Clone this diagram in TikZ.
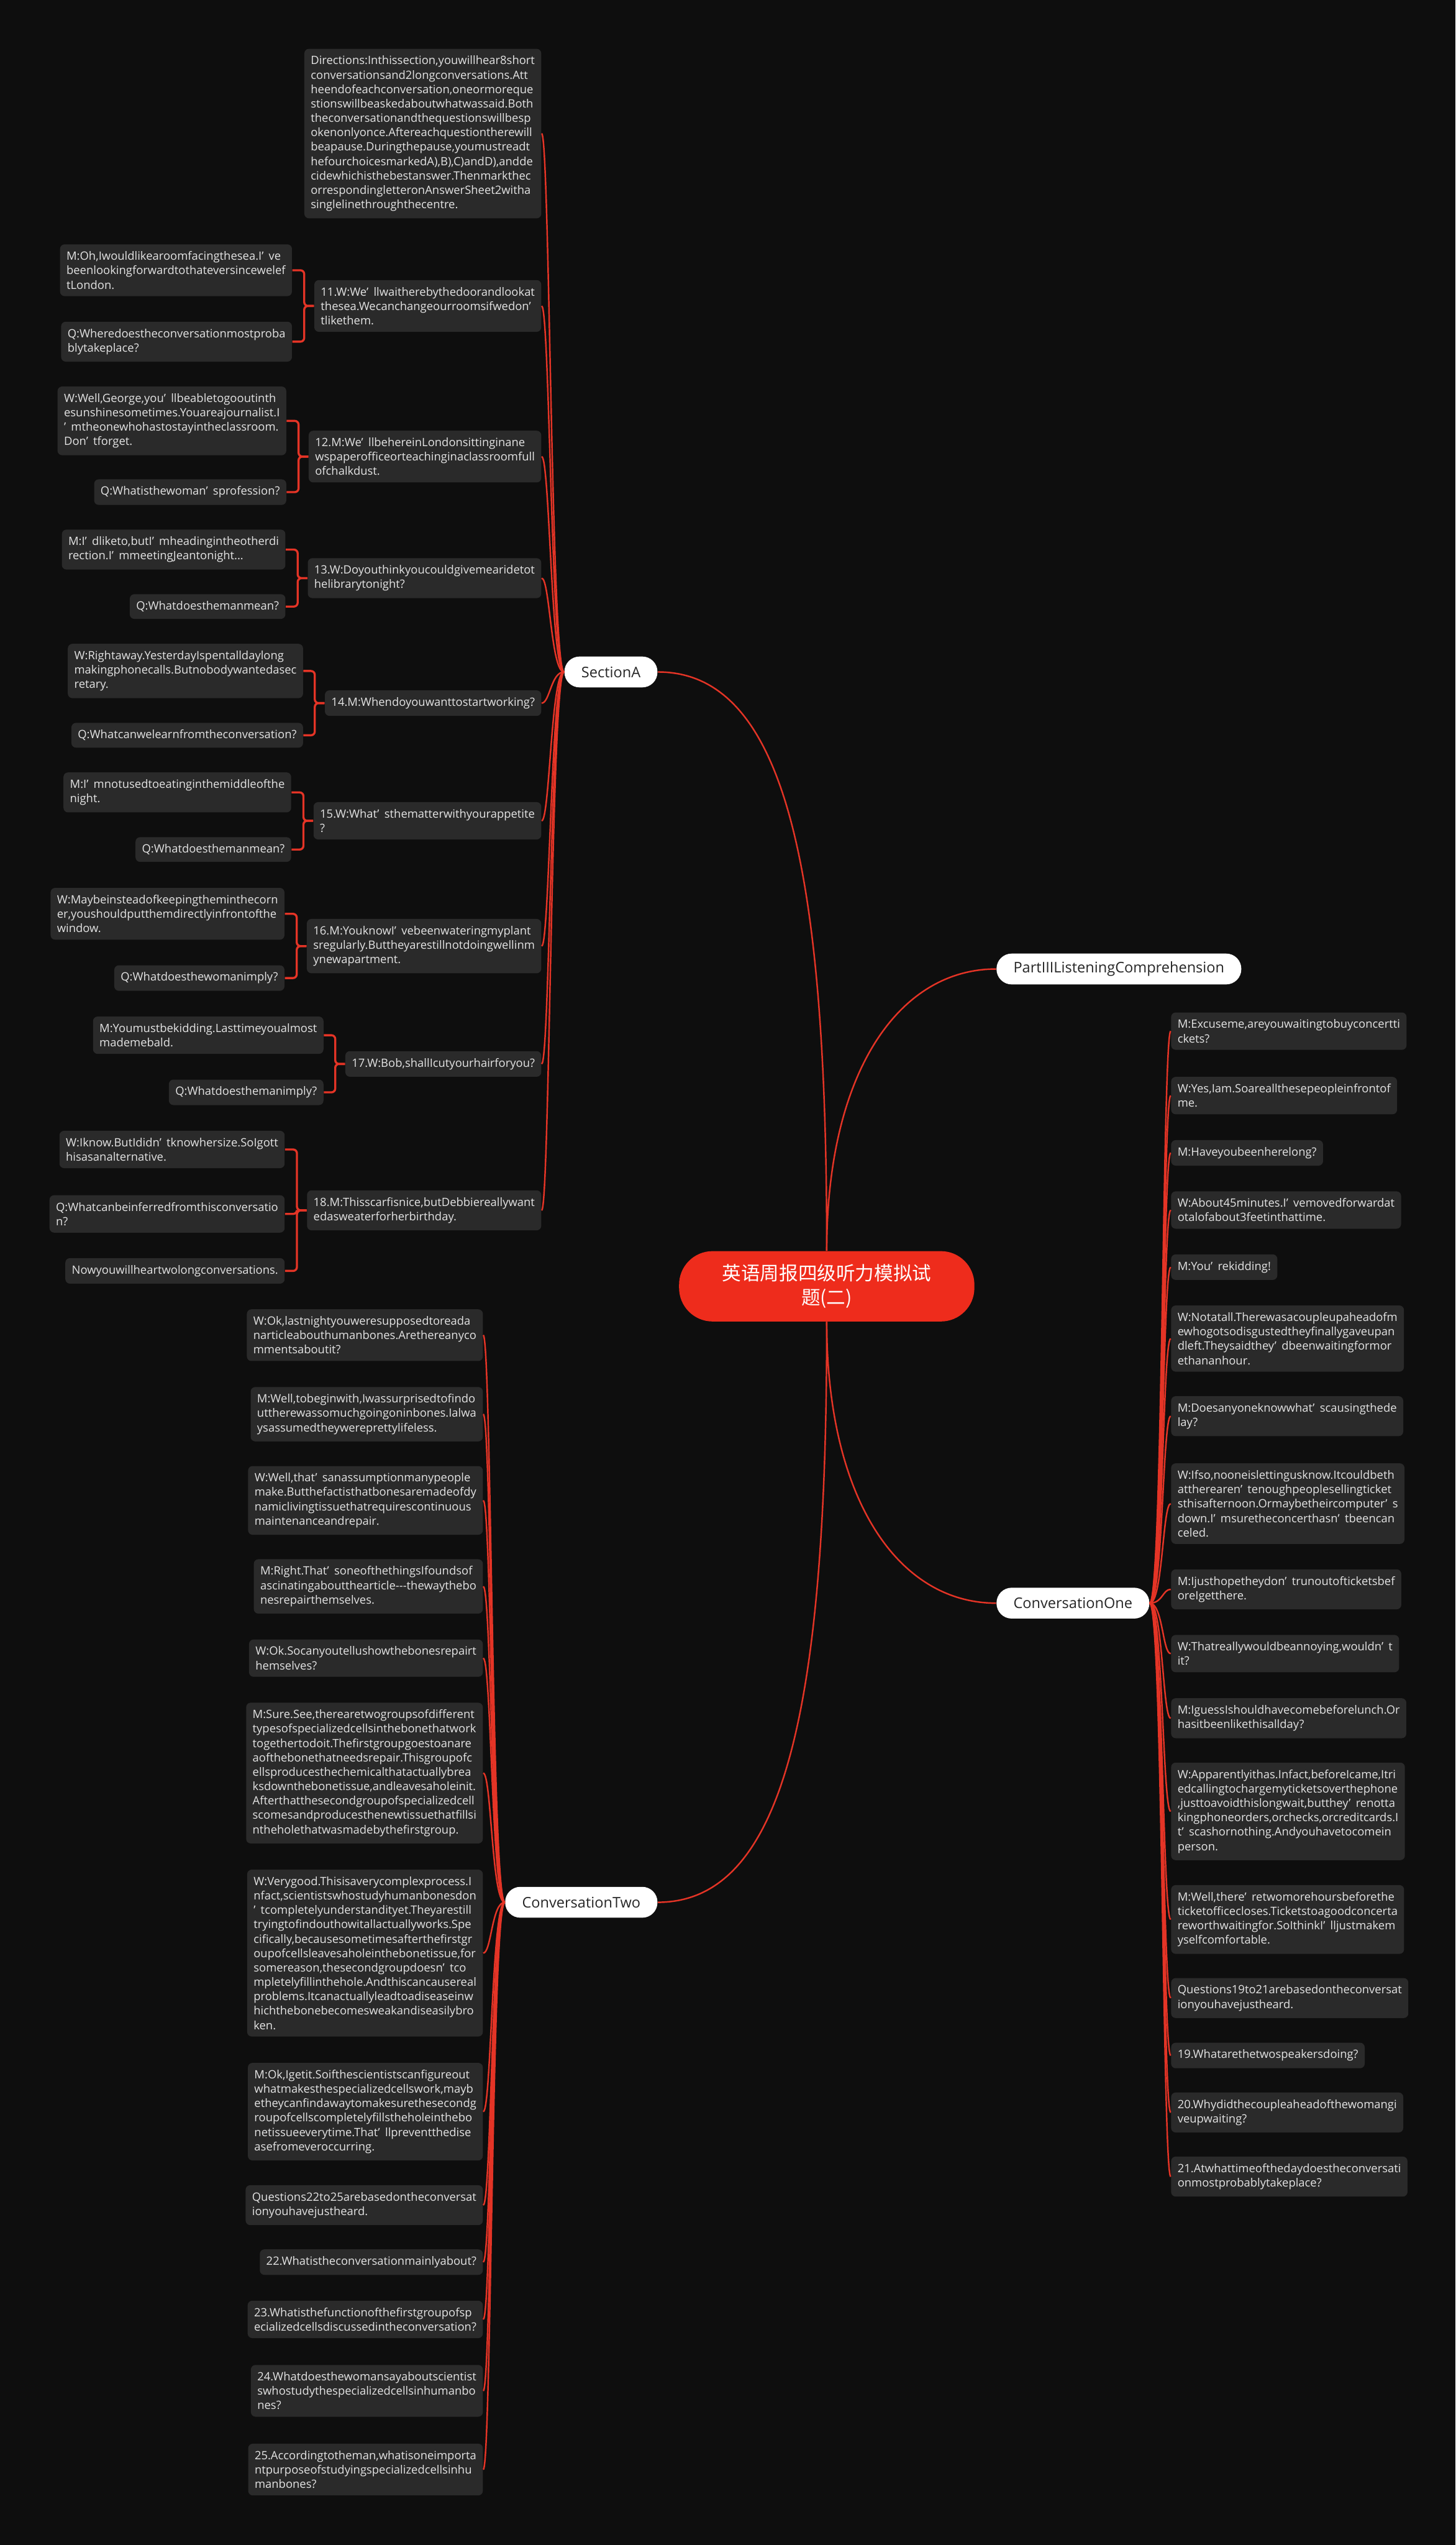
\documentclass[tikz,border=0pt]{standalone}
\usepackage{fontspec}
\setmainfont{Open Sans}
\newfontfamily\cjk{Noto Sans CJK SC}
\usepackage{tikz}
\usetikzlibrary{positioning}
\definecolor{bgdark}{RGB}{14,14,14}
\definecolor{boxgray}{RGB}{42,42,42}
\definecolor{textgray}{RGB}{228,228,228}
\definecolor{linkred}{RGB}{228,52,38}
\definecolor{rootred}{RGB}{238,44,28}
\newcommand{\ap}{’\hspace{.45em}}

\begin{document}
\begin{tikzpicture}[x=0.03cm, y=-0.03cm,
    leaf/.style={fill=boxgray, text=textgray, rounded corners=2.4pt, align=left,
        inner xsep=3.4pt, inner ysep=3.7pt, font=\fontsize{6.02}{7.57}\selectfont},
    topic/.style={fill=white, text=black!85, rounded corners=0.28cm, inner xsep=8.9pt,
        minimum height=0.57cm, font=\fontsize{7.7}{9}\selectfont},
    root/.style={fill=rootred, text=white, rounded corners=0.62cm, align=center,
        minimum width=5.46cm, minimum height=1.3cm, font=\cjk\fontsize{10}{12.7}\selectfont},
    link/.style={draw=linkred, line width=0.8pt},
    bracket/.style={draw=linkred, line width=1.1pt, rounded corners=2pt}]
    % background
    \path[use as bounding box, fill=bgdark] (0,0) rectangle (897,1568);

    % centre and main topics
    \node[root] (root) at (509.5,792.5) {英语周报四级听力模拟试\\题(二)};
    \node[topic, anchor=east] (sec) at (405.4,414) {SectionA};
    \node[topic, anchor=west] (part) at (613.9,597) {PartIIIListeningComprehension};
    \node[topic, anchor=west] (convone) at (613.9,987.7) {ConversationOne};
    \node[topic, anchor=east] (convtwo) at (405.4,1172) {ConversationTwo};

    % section A
    \node[leaf, anchor=east] (dir) at (333.8,82.3) {Directions:Inthissection,youwillhear8short\\conversationsand2longconversations.Att\\heendofeachconversation,oneormoreque\\stionswillbeaskedaboutwhatwassaid.Both\\theconversationandthequestionswillbesp\\okenonlyonce.Aftereachquestiontherewill\\beapause.Duringthepause,youmustreadt\\hefourchoicesmarkedA),B),C)andD),andde\\cidewhichisthebestanswer.Thenmarkthec\\orrespondingletteronAnswerSheet2witha\\singlelinethroughthecentre.};
    \node[leaf, anchor=east] (q11) at (333.8,188.5) {11.W:We\ap llwaitherebythedoorandlookat\\thesea.Wecanchangeourroomsifwedon’\\tlikethem.};
    \node[leaf, anchor=east] (q12) at (333.8,281.3) {12.M:We\ap llbehereinLondonsittinginane\\wspaperofficeorteachinginaclassroomfull\\ofchalkdust.};
    \node[leaf, anchor=east] (q13) at (333.8,356.2) {13.W:Doyouthinkyoucouldgivemearidetot\\helibrarytonight?};
    \node[leaf, anchor=east] (q14) at (333.8,433.2) {14.M:Whendoyouwanttostartworking?};
    \node[leaf, anchor=east] (q15) at (333.8,505.7) {15.W:What\ap sthematterwithyourappetite\\?};
    \node[leaf, anchor=east] (q16) at (333.8,582.9) {16.M:YouknowI\ap vebeenwateringmyplant\\sregularly.Buttheyarestillnotdoingwellinm\\ynewapartment.};
    \node[leaf, anchor=east] (q17) at (333.8,655.5) {17.W:Bob,shallIcutyourhairforyou?};
    \node[leaf, anchor=east] (q18) at (333.8,745.7) {18.M:Thisscarfisnice,butDebbiereallywant\\edasweaterforherbirthday.};

    \node[leaf, left=0.4cm of q11.west, yshift=0.66cm] (q11a) {M:Oh,Iwouldlikearoomfacingthesea.I\ap ve\\beenlookingforwardtothateversincewelef\\tLondon.};
    \node[leaf, left=0.4cm of q11.west, yshift=-0.66cm] (q11b) {Q:Wheredoestheconversationmostproba\\blytakeplace?};
    \node[leaf, left=0.4cm of q12.west, yshift=0.66cm] (q12a) {W:Well,George,you\ap llbeabletogooutinth\\esunshinesometimes.Youareajournalist.I\\\ap mtheonewhohastostayintheclassroom.\\Don\ap tforget.};
    \node[leaf, left=0.4cm of q12.west, yshift=-0.657cm] (q12b) {Q:Whatisthewoman\ap sprofession?};
    \node[leaf, left=0.4cm of q13.west, yshift=0.528cm] (q13a) {M:I\ap dliketo,butI\ap mheadingintheotherdi\\rection.I\ap mmeetingJeantonight...};
    \node[leaf, left=0.4cm of q13.west, yshift=-0.525cm] (q13b) {Q:Whatdoesthemanmean?};
    \node[leaf, left=0.39cm of q14.west, yshift=0.594cm] (q14a) {W:Rightaway.YesterdayIspentalldaylong\\makingphonecalls.Butnobodywantedasec\\retary.};
    \node[leaf, left=0.39cm of q14.west, yshift=-0.594cm] (q14b) {Q:Whatcanwelearnfromtheconversation?};
    \node[leaf, left=0.4cm of q15.west, yshift=0.525cm] (q15a) {M:I\ap mnotusedtoeatinginthemiddleofthe\\night.};
    \node[leaf, left=0.4cm of q15.west, yshift=-0.531cm] (q15b) {Q:Whatdoesthemanmean?};
    \node[leaf, left=0.4cm of q16.west, yshift=0.597cm] (q16a) {W:Maybeinsteadofkeepingtheminthecorn\\er,youshouldputthemdirectlyinfrontofthe\\window.};
    \node[leaf, left=0.4cm of q16.west, yshift=-0.591cm] (q16b) {Q:Whatdoesthewomanimply?};
    \node[leaf, left=0.39cm of q17.west, yshift=0.531cm] (q17a) {M:Youmustbekidding.Lasttimeyoualmost\\mademebald.};
    \node[leaf, left=0.39cm of q17.west, yshift=-0.525cm] (q17b) {Q:Whatdoesthemanimply?};
    \node[leaf, left=0.4cm of q18.west, yshift=1.125cm] (q18a) {W:Iknow.ButIdidn\ap tknowhersize.SoIgott\\hisasanalternative.};
    \node[leaf, left=0.4cm of q18.west, yshift=-0.066cm] (q18b) {Q:Whatcanbeinferredfromthisconversatio\\n?};
    \node[leaf, left=0.4cm of q18.west, yshift=-1.119cm] (q18c) {Nowyouwillheartwolongconversations.};

    % conversation one
    \node[leaf, anchor=west] (c1) at (721.5,635.3) {M:Excuseme,areyouwaitingtobuyconcertti\\ckets?};
    \node[leaf, anchor=west] (c2) at (721.5,675) {W:Yes,Iam.Soareallthesepeopleinfrontof\\me.};
    \node[leaf, anchor=west] (c3) at (721.5,710.3) {M:Haveyoubeenherelong?};
    \node[leaf, anchor=west] (c4) at (721.5,745.5) {W:About45minutes.I\ap vemovedforwardat\\otalofabout3feetinthattime.};
    \node[leaf, anchor=west] (c5) at (721.5,780.7) {M:You\ap rekidding!};
    \node[leaf, anchor=west] (c6) at (721.5,824.7) {W:Notatall.Therewasacoupleupaheadofm\\ewhogotsodisgustedtheyfinallygaveupan\\dleft.Theysaidthey\ap dbeenwaitingformor\\ethananhour.};
    \node[leaf, anchor=west] (c7) at (721.5,872.5) {M:Doesanyoneknowwhat\ap scausingthede\\lay?};
    \node[leaf, anchor=west] (c8) at (721.5,926.4) {W:Ifso,nooneislettingusknow.Itcouldbeth\\attherearen\ap tenoughpeoplesellingticket\\sthisafternoon.Ormaybetheircomputer\ap s\\down.I\ap msuretheconcerthasn\ap tbeencan\\celed.};
    \node[leaf, anchor=west] (c9) at (721.5,979.2) {M:Ijusthopetheydon\ap trunoutofticketsbef\\oreIgetthere.};
    \node[leaf, anchor=west] (c10) at (721.5,1018.8) {W:Thatreallywouldbeannoying,wouldn\ap t\\it?};
    \node[leaf, anchor=west] (c11) at (721.5,1058.6) {M:IguessIshouldhavecomebeforelunch.Or\\hasitbeenlikethisallday?};
    \node[leaf, anchor=west] (c12) at (721.5,1116) {W:Apparentlyithas.Infact,beforeIcame,Itri\\edcallingtochargemyticketsoverthephone\\,justtoavoidthislongwait,butthey\ap renotta\\kingphoneorders,orchecks,orcreditcards.I\\t\ap scashornothing.Andyouhavetocomein\\person.};
    \node[leaf, anchor=west] (c13) at (721.5,1182.6) {M:Well,there\ap retwomorehoursbeforethe\\ticketofficecloses.Ticketstoagoodconcerta\\reworthwaitingfor.SoIthinkI\ap lljustmakem\\yselfcomfortable.};
    \node[leaf, anchor=west] (c14) at (721.5,1231) {Questions19to21arebasedontheconversat\\ionyouhavejustheard.};
    \node[leaf, anchor=west] (c15) at (721.5,1266.4) {19.Whatarethetwospeakersdoing?};
    \node[leaf, anchor=west] (c16) at (721.5,1301.5) {20.Whydidthecoupleaheadofthewomangi\\veupwaiting?};
    \node[leaf, anchor=west] (c17) at (721.5,1341) {21.Atwhattimeofthedaydoestheconversati\\onmostprobablytakeplace?};

    % conversation two
    \node[leaf, anchor=east] (d1) at (297.8,822.6) {W:Ok,lastnightyouweresupposedtoreada\\narticleabouthumanbones.Arethereanyco\\mmentsaboutit?};
    \node[leaf, anchor=east] (d2) at (297.8,871.3) {M:Well,tobeginwith,Iwassurprisedtofindo\\uttherewassomuchgoingoninbones.Ialwa\\ysassumedtheywereprettylifeless.};
    \node[leaf, anchor=east] (d3) at (297.8,924.4) {W:Well,that\ap sanassumptionmanypeople\\make.Butthefactisthatbonesaremadeofdy\\namiclivingtissuethatrequirescontinuous\\maintenanceandrepair.};
    \node[leaf, anchor=east] (d4) at (297.8,977.4) {M:Right.That\ap soneofthethingsIfoundsof\\ascinatingaboutthearticle-{}-{}-thewaythebo\\nesrepairthemselves.};
    \node[leaf, anchor=east] (d5) at (297.8,1021.6) {W:Ok.Socanyoutellushowthebonesrepairt\\hemselves?};
    \node[leaf, anchor=east] (d6) at (297.8,1092.4) {M:Sure.See,therearetwogroupsofdifferent\\typesofspecializedcellsinthebonethatwork\\togethertodoit.Thefirstgroupgoestoanare\\aofthebonethatneedsrepair.Thisgroupofc\\ellsproducesthechemicalthatactuallybrea\\ksdownthebonetissue,andleavesaholeinit.\\Afterthatthesecondgroupofspecializedcell\\scomesandproducesthenewtissuethatfillsi\\ntheholethatwasmadebythefirstgroup.};
    \node[leaf, anchor=east] (d7) at (297.8,1203.3) {W:Verygood.Thisisaverycomplexprocess.I\\nfact,scientistswhostudyhumanbonesdon\\\ap tcompletelyunderstandityet.Theyarestill\\tryingtofindouthowitallactuallyworks.Spe\\cifically,becausesometimesafterthefirstgr\\oupofcellsleavesaholeinthebonetissue,for\\somereason,thesecondgroupdoesn\ap tco\\mpletelyfillinthehole.Andthiscancausereal\\problems.Itcanactuallyleadtoadiseaseinw\\hichthebonebecomesweakandiseasilybro\\ken.};
    \node[leaf, anchor=east] (d8) at (297.8,1301) {M:Ok,Igetit.Soifthescientistscanfigureout\\whatmakesthespecializedcellswork,mayb\\etheycanfindawaytomakesurethesecondg\\roupofcellscompletelyfillstheholeinthebo\\netissueeverytime.That\ap llpreventthedise\\asefromeveroccurring.};
    \node[leaf, anchor=east] (d9) at (297.8,1358.6) {Questions22to25arebasedontheconversat\\ionyouhavejustheard.};
    \node[leaf, anchor=east] (d10) at (297.8,1393.7) {22.Whatistheconversationmainlyabout?};
    \node[leaf, anchor=east] (d11) at (297.8,1429) {23.Whatisthefunctionofthefirstgroupofsp\\ecializedcellsdiscussedintheconversation?};
    \node[leaf, anchor=east] (d12) at (297.8,1473) {24.Whatdoesthewomansayaboutscientist\\swhostudythespecializedcellsinhumanbo\\nes?};
    \node[leaf, anchor=east] (d13) at (297.8,1521.5) {25.Accordingtotheman,whatisoneimporta\\ntpurposeofstudyingspecializedcellsinhu\\manbones?};

    % main branches
    \draw[link] (root.north) .. controls +(0,-230) and +(80,0) .. (sec.east);
    \draw[link] (root.north) .. controls +(0,-110) and +(-60,0) .. (part.west);
    \draw[link] (root.south) .. controls +(0,110) and +(-60,0) .. (convone.west);
    \draw[link] (root.south) .. controls +(0,230) and +(80,0) .. (convtwo.east);

    % sub branches
    \foreach \n in {dir,q11,q12,q13,q14,q15,q16,q17,q18}
        \draw[link] (sec.west) .. controls +(-8,0) and +(5,0) .. (\n.east);
    \foreach \n in {c1,c2,c3,c4,c5,c6,c7,c8,c9,c10,c11,c12,c13,c14,c15,c16,c17}
        \draw[link] (convone.east) .. controls +(8,0) and +(-5,0) .. (\n.west);
    \foreach \n in {d1,d2,d3,d4,d5,d6,d7,d8,d9,d10,d11,d12,d13}
        \draw[link] (convtwo.west) .. controls +(-8,0) and +(5,0) .. (\n.east);

    % brackets
    \foreach \p/\c in {q11/q11a,q11/q11b,q12/q12a,q12/q12b,q13/q13a,q13/q13b,
        q14/q14a,q14/q14b,q15/q15a,q15/q15b,q16/q16a,q16/q16b,
        q17/q17a,q17/q17b,q18/q18a,q18/q18b,q18/q18c}
        \draw[bracket] (\p.west) -- ++(-6,0) |- (\c.east);
\end{tikzpicture}
\end{document}
